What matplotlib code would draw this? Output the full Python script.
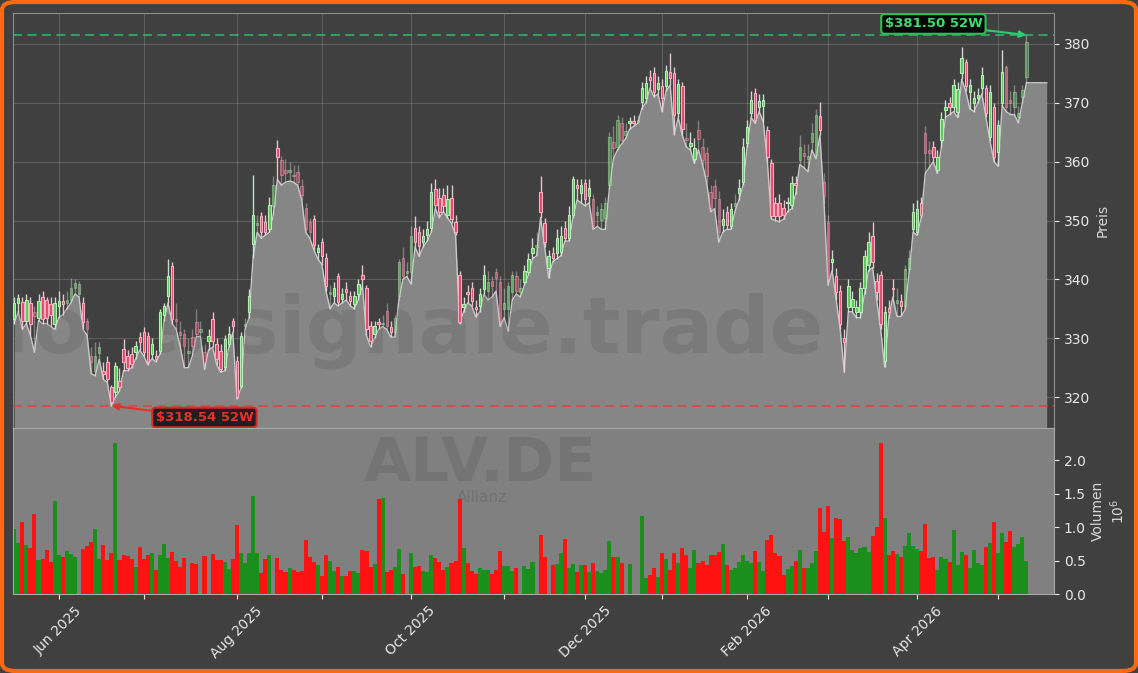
import numpy as np
import pandas as pd
import matplotlib
matplotlib.use("Agg")
import matplotlib.pyplot as plt
from matplotlib.patches import FancyBboxPatch
from matplotlib.colors import to_rgba

# ALV.DE (Allianz) daily sessions, Xetra calendar
holidays = ["2025-12-24", "2025-12-25", "2025-12-26", "2025-12-31",
            "2026-01-01", "2026-04-03", "2026-04-06", "2026-05-01"]
dates = pd.bdate_range("2025-05-16", "2026-05-13", freq="C", holidays=holidays)

opens = [
    333.2, 336.0, 336.2, 333.0, 336.0, 334.5, 333.5, 337.0, 336.5, 335.8, 332.5,  # May
    335.5, 336.3, 336.0, 336.5, 338.5, 337.5, 336.0, 333.0, 327.0, 324.5, 327.5, 324.4, 325.9, 321.7,
    320.8, 322.7, 328.1, 327.0, 327.3, 327.6, 330.2,  # Jun
    331.0, 330.3, 327.3, 327.0, 327.8, 334.0, 337.1, 342.2, 333.2, 331.0, 330.7, 327.5, 330.2, 332.7,
    331.0, 327.6, 329.5, 333.2, 329.0, 327.8, 325.1, 329.0, 332.9,  # Jul
    326.1, 321.9, 332.0, 334.4, 346.0, 349.3, 350.7, 349.8, 348.5, 352.5, 362.4, 360.3, 358.5, 358.2,
    357.8, 358.3, 355.8, 352.2, 349.7, 350.2, 344.6,  # Aug
    346.3, 343.7, 337.5, 337.1, 340.5, 336.6, 338.3, 337.1, 335.8, 337.5, 340.8, 338.6, 332.0, 330.7,
    332.7, 332.4, 334.6, 331.9, 331.0, 337.1, 343.7, 341.0,  # Sep
    341.2, 348.8, 348.0, 346.4, 347.6, 348.8, 355.3, 353.9, 354.4, 351.0, 353.9, 349.7, 340.8, 335.3,
    337.8, 338.6, 335.3, 335.4, 338.3, 338.0, 339.7, 341.2, 339.5,  # Oct
    335.0, 334.9, 337.8, 340.5, 337.8, 339.5, 341.2, 344.4, 345.5, 354.9, 349.5, 342.0, 344.4, 344.4,
    344.7, 348.8, 347.0, 351.0, 356.0, 354.7,  # Nov
    356.3, 354.1, 353.6, 351.0, 350.0, 350.5, 356.1, 363.4, 362.5, 366.6, 364.5, 366.6, 366.8, 366.8,
    370.2, 370.8, 374.4, 375.1, 372.4,  # Dec
    372.9, 372.9, 375.3, 375.1, 368.3, 372.9, 364.0, 362.7, 360.5, 365.4, 362.5, 361.5, 354.9, 355.8,
    353.6, 349.3, 351.4, 349.0, 352.5, 354.7, 356.6,  # Jan
    363.2, 368.3, 371.7, 369.2, 369.5, 365.4, 359.7, 352.9, 353.0, 352.2, 352.9, 352.7, 356.4, 360.3,
    361.5, 360.5, 363.4, 361.2, 367.8, 356.6,  # Feb
    349.8, 342.9, 340.5, 338.0, 330.0, 335.3, 335.3, 334.4, 334.4, 338.6, 342.5, 347.3, 339.8, 340.8,
    326.1, 335.1, 338.6, 336.0, 336.3, 335.4, 341.7, 348.5,  # Mar
    348.1, 353.0, 364.9, 362.0, 362.5, 358.6, 363.7, 368.8, 370.0, 369.3, 368.5, 375.1, 376.9, 371.9,
    370.0, 370.8, 372.5, 372.5, 364.2, 369.2,  # Apr
    361.7, 370.0, 376.0, 370.5, 369.2, 367.5, 371.0, 374.4,  # May
]
highs = [
    337.0, 337.5, 337.0, 337.5, 337.0, 335.5, 337.5, 338.0, 337.0, 337.0, 337.0,
    338.0, 337.5, 338.0, 340.3, 340.0, 339.8, 337.0, 333.5, 328.5, 329.3, 329.3, 326.0, 327.0, 322.0,
    326.0, 325.0, 329.8, 328.0, 328.5, 329.5, 331.0,
    331.9, 331.0, 330.0, 328.0, 335.0, 336.0, 343.4, 343.0, 336.0, 333.0, 331.5, 330.0, 331.5, 335.0,
    333.0, 329.0, 331.5, 334.5, 330.0, 329.0, 330.5, 332.0, 333.5,
    327.0, 331.0, 333.5, 338.3, 357.8, 351.0, 351.5, 351.0, 354.0, 357.5, 363.7, 361.0, 360.5, 360.0,
    359.5, 359.5, 357.0, 353.0, 350.5, 351.0, 346.0,
    347.0, 344.5, 339.0, 339.5, 341.0, 338.5, 339.5, 338.0, 338.0, 340.0, 342.5, 339.0, 333.0, 333.0,
    333.5, 334.0, 336.0, 333.0, 334.0, 343.5, 345.5, 343.0,
    349.0, 350.7, 349.0, 348.5, 350.0, 356.4, 357.0, 355.5, 355.5, 356.0, 356.0, 351.0, 341.5, 337.0,
    339.0, 339.5, 336.5, 338.5, 342.5, 341.5, 340.5, 342.0, 340.5,
    338.5, 339.5, 341.5, 341.5, 340.0, 342.5, 344.5, 347.0, 348.0, 357.5, 350.5, 345.0, 345.5, 348.5,
    349.0, 350.0, 352.5, 357.5, 357.0, 357.0,
    357.0, 357.0, 354.5, 352.5, 353.0, 354.0, 365.0, 366.0, 368.0, 367.5, 366.5, 367.5, 368.0, 368.0,
    373.5, 374.5, 375.5, 376.0, 374.5,
    374.0, 376.5, 378.5, 376.0, 374.0, 373.5, 366.5, 365.0, 364.0, 367.0, 364.0, 362.5, 356.0, 357.0,
    355.0, 352.0, 352.5, 353.0, 354.5, 357.0, 364.0,
    367.0, 372.0, 372.5, 371.5, 371.5, 366.0, 360.5, 354.0, 354.5, 353.5, 354.0, 357.5, 357.5, 364.5,
    363.0, 363.0, 366.5, 369.0, 370.2, 358.0,
    351.0, 345.0, 342.0, 339.0, 331.5, 340.0, 338.0, 336.5, 339.5, 345.0, 348.0, 349.7, 341.0, 341.5,
    335.5, 336.5, 340.0, 338.5, 337.5, 342.5, 345.0, 353.0,
    353.5, 354.0, 366.0, 363.5, 363.5, 362.0, 368.5, 370.5, 371.0, 374.0, 373.5, 379.5, 377.5, 374.0,
    372.0, 372.5, 376.0, 373.0, 373.0, 370.0,
    367.0, 379.0, 376.5, 372.0, 373.0, 369.5, 373.0, 381.5,
]
lows = [
    332.5, 334.5, 331.5, 332.5, 330.5, 327.6, 333.0, 332.5, 332.5, 332.0, 331.5,
    333.5, 334.0, 335.0, 336.0, 337.5, 337.0, 331.5, 330.5, 324.0, 323.6, 326.4, 323.0, 322.5, 318.54,
    320.0, 321.0, 324.5, 324.5, 325.0, 326.5, 328.0,
    327.0, 325.5, 326.5, 326.0, 327.3, 333.0, 336.0, 332.5, 331.5, 328.6, 325.0, 325.0, 327.0, 330.3,
    330.3, 324.7, 328.0, 328.5, 325.5, 324.2, 324.5, 328.5, 331.0,
    319.7, 321.5, 331.5, 333.5, 343.7, 348.0, 347.0, 347.5, 348.0, 351.0, 357.0, 356.0, 356.5, 356.7,
    356.5, 356.0, 353.5, 348.0, 347.0, 345.0, 343.5,
    342.5, 338.0, 335.0, 336.0, 335.5, 336.0, 336.5, 335.5, 335.0, 336.5, 339.0, 330.5, 328.5, 330.0,
    331.5, 332.0, 331.5, 330.2, 330.2, 336.5, 340.0, 340.5,
    339.2, 345.5, 343.9, 345.5, 346.5, 348.0, 352.0, 350.5, 351.5, 350.5, 349.5, 347.5, 332.5, 334.5,
    336.0, 335.5, 333.6, 334.5, 337.5, 336.5, 337.0, 338.0, 332.0,
    333.5, 331.2, 336.5, 337.5, 337.0, 339.0, 340.8, 343.5, 344.0, 350.5, 345.5, 340.3, 343.0, 343.5,
    344.0, 346.5, 346.5, 350.5, 353.5, 353.0,
    352.5, 353.0, 348.5, 349.0, 348.5, 348.5, 355.5, 360.5, 362.0, 363.0, 363.9, 365.5, 366.0, 366.5,
    369.0, 370.0, 372.5, 371.0, 371.5,
    368.5, 372.0, 373.0, 364.6, 367.5, 364.5, 362.5, 362.0, 359.7, 362.0, 359.5, 356.5, 351.5, 352.0,
    346.3, 348.0, 348.5, 348.5, 351.5, 353.5, 356.0,
    362.5, 367.5, 366.5, 368.5, 366.8, 360.0, 350.3, 350.0, 349.8, 350.2, 351.5, 352.0, 354.5, 359.5,
    359.0, 358.3, 362.0, 360.5, 364.5, 353.0,
    339.0, 341.5, 336.5, 331.5, 324.2, 334.5, 334.5, 333.5, 333.5, 337.5, 341.5, 342.0, 336.5, 331.5,
    325.1, 333.5, 337.0, 333.7, 333.7, 334.8, 341.0, 348.0,
    347.5, 350.5, 358.0, 359.0, 360.0, 358.0, 362.5, 367.5, 368.0, 368.5, 367.5, 374.0, 372.0, 369.0,
    368.5, 370.0, 371.5, 367.5, 363.5, 360.0,
    359.2, 369.5, 368.5, 368.0, 368.0, 366.6, 370.0, 373.4,
]
closes = [
    336.0, 336.8, 333.0, 336.5, 332.5, 333.8, 336.3, 333.2, 333.5, 334.0, 336.0,
    336.3, 335.8, 336.5, 338.5, 339.3, 339.2, 332.7, 331.5, 326.0, 327.0, 328.5, 323.9, 323.0, 319.2,
    325.3, 321.7, 325.9, 325.0, 325.6, 328.6, 329.3,
    327.6, 325.9, 329.0, 326.4, 334.4, 335.4, 340.5, 333.2, 332.9, 330.5, 328.6, 327.8, 328.6, 330.7,
    331.5, 326.0, 330.3, 329.5, 326.4, 324.7, 329.8, 330.7, 332.0,
    320.0, 330.3, 332.4, 337.1, 351.0, 349.5, 348.1, 348.0, 352.7, 356.0, 360.8, 357.8, 358.0, 358.6,
    357.5, 356.6, 354.4, 348.5, 348.0, 345.9, 345.4,
    343.9, 338.8, 337.8, 338.6, 336.1, 337.5, 337.8, 336.3, 337.1, 339.2, 340.0, 331.5, 329.5, 332.0,
    332.4, 332.6, 332.0, 331.0, 333.5, 342.9, 340.5, 341.5,
    347.3, 346.4, 345.6, 347.3, 348.5, 354.9, 352.7, 351.4, 352.4, 353.6, 350.2, 348.1, 332.7, 335.8,
    337.5, 336.3, 334.9, 337.5, 340.8, 339.5, 338.8, 340.3, 332.9,
    336.0, 338.8, 340.8, 338.0, 338.5, 341.4, 343.4, 345.3, 345.8, 351.5, 346.4, 343.9, 343.7, 347.0,
    347.3, 347.1, 351.0, 357.1, 355.6, 356.1,
    353.6, 355.6, 349.0, 351.5, 352.0, 353.0, 364.2, 362.4, 367.1, 363.7, 365.2, 366.8, 366.6, 367.0,
    372.5, 373.4, 373.9, 371.9, 373.4,
    370.8, 375.4, 374.2, 368.0, 373.2, 365.6, 363.7, 363.2, 362.4, 363.9, 360.3, 357.5, 352.2, 353.9,
    348.0, 350.2, 349.3, 351.9, 353.0, 355.6, 362.5,
    365.8, 370.5, 367.1, 370.3, 370.5, 360.8, 350.8, 350.8, 350.8, 351.0, 353.2, 356.3, 356.0, 362.5,
    361.0, 361.0, 364.9, 368.0, 365.4, 354.1,
    340.0, 343.4, 337.8, 332.4, 329.3, 338.8, 336.6, 335.3, 338.6, 343.9, 346.4, 342.9, 337.8, 332.4,
    334.4, 334.4, 338.3, 336.5, 335.4, 341.7, 343.7, 351.5,
    351.9, 351.0, 361.5, 361.5, 360.8, 360.8, 367.3, 369.3, 369.3, 373.0, 372.4, 377.6, 372.9, 373.0,
    370.8, 371.4, 374.7, 368.3, 371.9, 360.8,
    366.3, 375.3, 369.3, 370.0, 371.9, 368.3, 372.2, 380.3,
]
# pale candles in the reference (1 = drawn faint)
faint = [
    0, 0, 0, 0, 0, 1, 0, 0, 0, 0, 0,
    0, 0, 1, 1, 1, 1, 0, 1, 1, 1, 1, 0, 0, 0, 0, 0, 0, 0, 0, 0, 0,
    0, 0, 0, 0, 0, 0, 0, 0, 1, 1, 1, 1, 1, 1, 1, 1, 0, 0, 0, 0, 0, 0, 0,
    0, 0, 1, 0, 0, 1, 0, 0, 0, 1, 0, 1, 1, 1, 1, 1, 1, 1, 1, 0, 0,
    0, 0, 1, 0, 0, 0, 0, 0, 0, 0, 0, 0, 0, 0, 0, 1, 1, 0, 1, 1, 1, 1,
    1, 0, 0, 0, 0, 0, 0, 0, 0, 0, 0, 0, 0, 0, 0, 0, 0, 0, 0, 1, 1, 1, 1,
    1, 1, 1, 1, 1, 0, 0, 0, 1, 0, 0, 0, 0, 0, 0, 0, 0, 0, 0, 0,
    0, 0, 1, 1, 1, 1, 1, 1, 1, 1, 1, 0, 0, 1, 0, 0, 0, 0, 0,
    0, 0, 0, 0, 0, 0, 1, 0, 0, 1, 1, 1, 1, 1, 1, 0, 0, 0, 1, 0, 0,
    0, 0, 0, 0, 0, 0, 0, 0, 0, 0, 0, 0, 0, 1, 1, 1, 1, 1, 0, 1,
    1, 0, 0, 0, 0, 0, 0, 0, 0, 0, 0, 0, 0, 0, 0, 0, 0, 1, 0, 1, 1, 0,
    0, 0, 1, 1, 0, 0, 0, 0, 0, 0, 0, 0, 0, 0, 0, 0, 0, 0, 0, 0,
    0, 0, 1, 1, 1, 1, 1, 1,
]
# volume in millions of shares
volumes = [
    0.97, 0.76, 1.07, 0.73, 0.69, 1.19, 0.51, 0.52, 0.66, 0.48, 1.39, 0.59, 0.55, 0.64, 0.60, 0.55,
    0.0, 0.67, 0.72, 0.78, 0.97, 0.52, 0.73, 0.51, 0.61, 2.25, 0.51, 0.59, 0.57, 0.52, 0.40, 0.70,
    0.52, 0.58, 0.61, 0.36, 0.59, 0.74, 0.54, 0.63, 0.49, 0.40, 0.54, 0.0, 0.46, 0.45, 0.0, 0.57,
    0.0, 0.60, 0.51, 0.51, 0.48, 0.37, 0.52, 1.03, 0.61, 0.47, 0.61, 1.46, 0.61, 0.31, 0.52, 0.59,
    0.0, 0.54, 0.36, 0.33, 0.39, 0.36, 0.33, 0.34, 0.81, 0.55, 0.48, 0.43, 0.27, 0.58, 0.49, 0.34,
    0.40, 0.27, 0.27, 0.34, 0.34, 0.31, 0.66, 0.64, 0.40, 0.45, 1.42, 1.43, 0.33, 0.36, 0.40, 0.67,
    0.30, 0.0, 0.61, 0.40, 0.42, 0.34, 0.33, 0.58, 0.54, 0.48, 0.36, 0.40, 0.46, 0.49, 1.42, 0.69,
    0.46, 0.34, 0.30, 0.39, 0.36, 0.36, 0.30, 0.36, 0.64, 0.42, 0.42, 0.34, 0.39, 0.0, 0.42, 0.37,
    0.48, 0.0, 0.88, 0.55, 0.0, 0.43, 0.45, 0.61, 0.82, 0.39, 0.45, 0.33, 0.43, 0.43, 0.33, 0.46,
    0.34, 0.31, 0.36, 0.79, 0.55, 0.55, 0.46, 0.0, 0.45, 0.0, 0.0, 1.16, 0.24, 0.28, 0.39, 0.25,
    0.61, 0.52, 0.36, 0.61, 0.46, 0.69, 0.58, 0.39, 0.66, 0.46, 0.49, 0.43, 0.58, 0.58, 0.63, 0.75,
    0.43, 0.36, 0.39, 0.48, 0.58, 0.49, 0.46, 0.64, 0.48, 0.35, 0.80, 0.88, 0.62, 0.57, 0.28, 0.37,
    0.42, 0.49, 0.66, 0.39, 0.39, 0.46, 0.64, 1.29, 0.93, 1.31, 0.84, 1.14, 1.12, 0.79, 0.85, 0.66,
    0.61, 0.69, 0.70, 0.63, 0.87, 1.00, 2.26, 1.13, 0.58, 0.64, 0.60, 0.55, 0.72, 0.91, 0.72, 0.67,
    0.64, 1.04, 0.54, 0.55, 0.36, 0.55, 0.52, 0.48, 0.96, 0.43, 0.63, 0.58, 0.39, 0.66, 0.46, 0.43,
    0.70, 0.76, 1.07, 0.61, 0.91, 0.78, 0.94, 0.70, 0.75, 0.85, 0.49,
]

n = len(dates)
assert len(opens) == len(highs) == len(lows) == len(closes) == len(faint) == len(volumes) == n

o = np.array(opens)
h = np.array(highs)
l = np.array(lows)
c = np.array(closes)
v = np.array(volumes)
x = np.arange(n)
up = c >= o
pale = np.array(faint) == 1

BG = "#404040"
fig = plt.figure(figsize=(11.38, 6.73), dpi=100, facecolor=BG)
W, H = 1138, 673
ax = fig.add_axes([13 / W, 1 - 428 / H, 1041 / W, 415 / H], facecolor=BG)
axv = fig.add_axes([13 / W, 1 - 594 / H, 1041 / W, 166 / H], facecolor="#808080", sharex=ax)

# area under the daily lows, carried flat a few sessions past the last bar
x_fill = np.append(x, x[-1] + 5)
l_fill = np.append(l, l[-1])
ax.fill_between(x_fill, l_fill, 300, color="#868686", zorder=2, lw=0)
ax.plot(x_fill, l_fill, color="#c9c9c9", lw=1.0, zorder=2.2)

# candles
alphas = np.where(pale, 0.42, 0.95)
face = [to_rgba("#5cc85c" if u else "#e8456b", a) for u, a in zip(up, alphas)]
edge = [to_rgba("#b9f2b9" if u else "#ffb3c6", a) for u, a in zip(up, alphas)]
wick = [to_rgba("#d2e6d2" if u else "#f0ccd4", a) for u, a in zip(up, alphas)]
ax.vlines(x, l, h, colors=wick, lw=1.0, zorder=3)
body = np.maximum(np.abs(c - o), 0.25)
ax.bar(x, body, bottom=np.minimum(o, c), width=0.6, color=face, edgecolor=edge,
       linewidth=0.8, zorder=4)

# watermark: same tone as the dark background, so it only shows on the grey area
ax.text(0.383, 0.234, "forexsignale.trade", transform=ax.transAxes, fontsize=57,
        fontweight="bold", color="#3a3a3a", alpha=0.15, ha="center", va="center",
        zorder=2.5, clip_on=True)

# 52-week high / low
hi_i = int(np.argmax(h))
lo_i = int(np.argmin(l))
ax.axhline(h[hi_i], color="#2ecc71", ls=(0, (5, 3)), lw=1.3, alpha=0.75, zorder=5)
ax.axhline(l[lo_i], color="#e0443c", ls=(0, (5, 3)), lw=1.3, alpha=0.85, zorder=5)
ax.annotate(r"\$%.2f 52W" % h[hi_i], xy=(hi_i, h[hi_i]), xytext=(-67, 8),
            textcoords="offset points", ha="center", va="center", fontsize=9.5,
            fontweight="bold", color="#3ddc6e", zorder=6,
            bbox=dict(boxstyle="round,pad=0.25", fc="#060606", ec="#2ebd59", lw=1.5),
            arrowprops=dict(arrowstyle="-|>", color="#2ecc71", lw=1.5, mutation_scale=10,
                            shrinkA=0, shrinkB=0))
ax.annotate(r"\$%.2f 52W" % l[lo_i], xy=(lo_i, l[lo_i]), xytext=(67, -8.5),
            textcoords="offset points", ha="center", va="center", fontsize=9.5,
            fontweight="bold", color="#e8302a", zorder=6,
            bbox=dict(boxstyle="round,pad=0.25", fc="#1e1e1e", ec="#d42a2a", lw=1.5),
            arrowprops=dict(arrowstyle="-|>", color="#e8302a", lw=1.5, mutation_scale=10,
                            shrinkA=0, shrinkB=0))

ax.set_ylim(314.75, 385.25)
ax.set_xlim(-0.3, 256.8)
ax.set_yticks(np.arange(320, 381, 10))
ax.yaxis.tick_right()
ax.yaxis.set_label_position("right")
ax.set_ylabel("Preis", color="#d8d8d8", fontsize=10)
ax.tick_params(axis="y", colors="#e8e8e8", labelsize=10)
ax.tick_params(axis="x", labelbottom=False, length=0)
ax.grid(True, color="white", alpha=0.16, lw=0.8, zorder=0)
ax.set_axisbelow(True)
for s in ax.spines.values():
    s.set_color("#8c8c8c")

# volume
vcol = np.where(up, "#1b8f1b", "#ff1212")
axv.bar(x, v, width=1.0, color=vcol, lw=0, zorder=2)
axv.set_ylim(0, 2.48)
axv.set_yticks(np.arange(0, 2.01, 0.5))
axv.set_yticklabels(["%.1f" % t for t in np.arange(0, 2.01, 0.5)])
axv.yaxis.tick_right()
axv.yaxis.set_label_position("right")
axv.set_ylabel("Volumen\n$10^6$", color="#d8d8d8", fontsize=10)
axv.tick_params(axis="both", colors="#e8e8e8", labelsize=10)
for s in axv.spines.values():
    s.set_color("#a8a8a8")

# month ticks at the first session of each month, labelled every second month
month_idx = np.flatnonzero(dates.month != np.roll(dates.month, 1))
month_lab = [dates[i].strftime("%b %Y") if k % 2 == 0 else "" for k, i in enumerate(month_idx)]
axv.set_xticks(month_idx)
axv.set_xticklabels(month_lab, rotation=45)

fig.text(480 / W, 1 - 481 / H, "ALV.DE", fontsize=44, fontweight="bold", color="#3a3a3a",
         alpha=0.16, ha="center", va="baseline")
fig.text(482 / W, 1 - 490 / H, "Allianz", fontsize=11, color="#3a3a3a", alpha=0.2,
         ha="center", va="top")

border = FancyBboxPatch((2 / W, 2 / H), 1 - 4 / W, 1 - 4 / H,
                        boxstyle="round,pad=0,rounding_size=0.012", transform=fig.transFigure,
                        fill=False, edgecolor="#ff6a10", linewidth=3)
fig.add_artist(border)

fig.savefig("out.png", dpi=100, facecolor=BG)
